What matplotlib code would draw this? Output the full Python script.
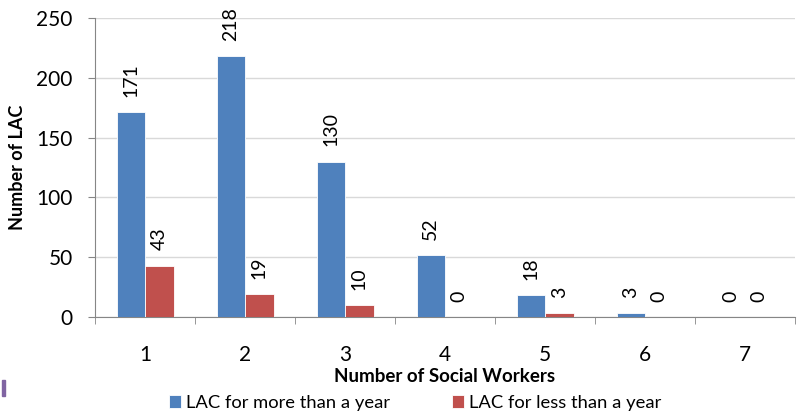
import numpy as np
import matplotlib
matplotlib.use("Agg")
import matplotlib.pyplot as plt
from matplotlib.patches import Rectangle

plt.rcParams['font.family'] = ['Lato', 'DejaVu Sans']

categories = ['1', '2', '3', '4', '5', '6', '7']
more_than_year = [171, 218, 130, 52, 18, 3, 0]
less_than_year = [43, 19, 10, 0, 3, 0, 0]

blue = '#4F81BD'
red = '#C0504D'

fig = plt.figure(figsize=(8.03, 4.16), dpi=100)
ax = fig.add_axes([95 / 803, 1 - 317 / 416, 700 / 803, 299 / 416])

x = np.arange(len(categories))
w = 0.285
b1 = ax.bar(x - w / 2, more_than_year, w, color=blue, edgecolor='white', linewidth=0.6,
            label='LAC for more than a year', zorder=3)
b2 = ax.bar(x + w / 2, less_than_year, w, color=red, edgecolor='white', linewidth=0.6,
            label='LAC for less than a year', zorder=3)

# rotated value labels above each bar
for bars, vals in [(b1, more_than_year), (b2, less_than_year)]:
    for rect, v in zip(bars, vals):
        ax.annotate(str(v), (rect.get_x() + rect.get_width() / 2, v),
                    xytext=(0, 11), textcoords='offset points',
                    rotation=90, ha='center', va='bottom', fontsize=14)

ax.set_xlim(-0.5, len(categories) - 0.5)
ax.set_ylim(0, 250)
ax.set_yticks(range(0, 251, 50))
ax.tick_params(axis='y', labelsize=15, length=5, color='#868686', pad=11)

ax.set_xticks(x)
ax.set_xticklabels(categories)
ax.set_xticks(np.arange(-0.5, len(categories)), minor=True)
ax.tick_params(axis='x', which='major', length=0, labelsize=15, pad=20)
ax.tick_params(axis='x', which='minor', length=5, color='#868686')

ax.grid(axis='y', color='#D9D9D9', linewidth=1, zorder=0)
for s in ['top', 'right']:
    ax.spines[s].set_visible(False)
for s in ['left', 'bottom']:
    ax.spines[s].set_color('#868686')

ax.set_xlabel('Number of Social Workers', fontsize=13.5, fontweight='bold', va='center')
ax.xaxis.set_label_coords(0.5, (317 - 376) / 299)
ax.set_ylabel('Number of LAC', fontsize=13, fontweight='bold', va='center')
ax.yaxis.set_label_coords((18 - 95) / 700, 0.5)

fig.legend(handles=[b1, b2], loc='center', bbox_to_anchor=(415 / 803, 1 - 403 / 416),
           ncol=2, frameon=False, fontsize=13.2, handlelength=0.65, handleheight=0.65,
           columnspacing=3.4, handletextpad=0.25)

fig.patches.append(Rectangle((2 / 803, 1 - 396 / 416), 3 / 803, 16 / 416,
                             transform=fig.transFigure, color='#8064A2'))

fig.savefig('out.png', dpi=100)
